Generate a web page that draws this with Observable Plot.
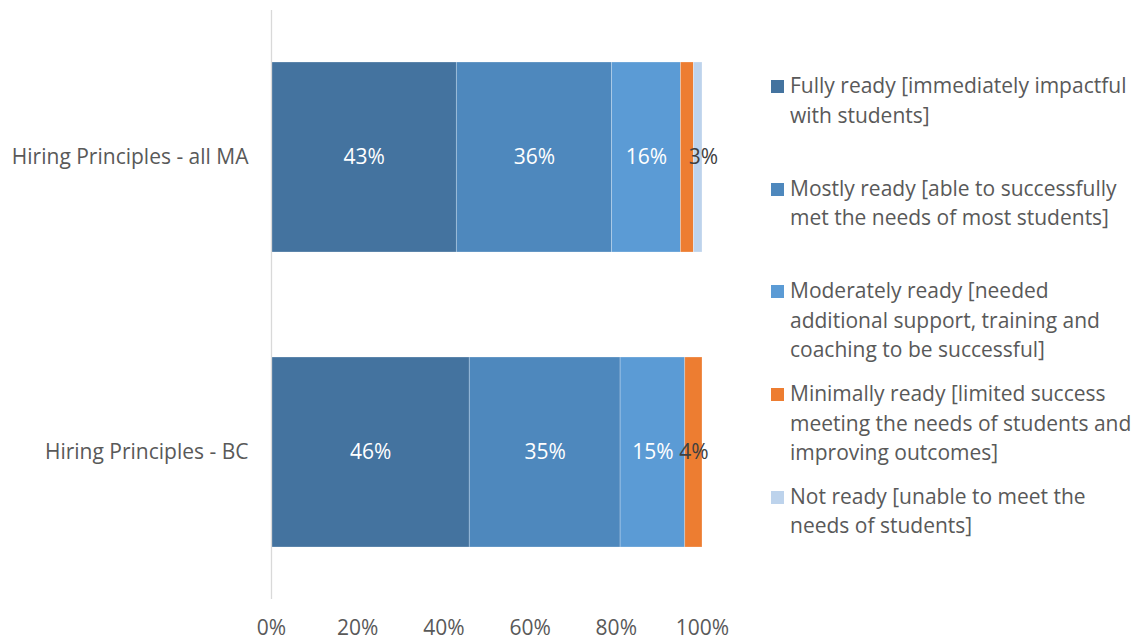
<!DOCTYPE html>
<html>
<head>
<meta charset="utf-8">
<script src="https://cdn.jsdelivr.net/npm/d3@7"></script>
<script src="https://cdn.jsdelivr.net/npm/@observablehq/plot@0.6"></script>
<style>
  html, body { margin: 0; padding: 0; background: #fff; }
  #wrap { position: relative; width: 1135px; height: 641px; font-family: "Open Sans", sans-serif; }
  #legend { position: absolute; left: 771px; top: 71px; }
  .item { position: relative; height: 102.7px; }
  .sw { position: absolute; left: 0; top: 9px; width: 13px; height: 13px; }
  .lab { position: absolute; left: 19px; top: 0; font-size: 21px; line-height: 29.5px; color: #595959; white-space: pre; }
</style>
</head>
<body>
<div id="wrap"><div id="legend"></div></div>
<script>
const categories = ["Hiring Principles - all MA", "Hiring Principles - BC"];
const series = [
  "Fully ready [immediately impactful with students]",
  "Mostly ready [able to successfully met the needs of most students]",
  "Moderately ready [needed additional support, training and coaching to be successful]",
  "Minimally ready [limited success meeting the needs of students and improving outcomes]",
  "Not ready [unable to meet the needs of students]"
];
const legendLines = [
  ["Fully ready [immediately impactful", "with students]"],
  ["Mostly ready [able to successfully", "met the needs of most students]"],
  ["Moderately ready [needed", "additional support, training and", "coaching to be successful]"],
  ["Minimally ready [limited success", "meeting the needs of students and", "improving outcomes]"],
  ["Not ready [unable to meet the", "needs of students]"]
];
const allMA = [43, 36, 16, 3, 2];
const bc = [46, 35, 15, 4, 0];
const xTicks = [0, 20, 40, 60, 80, 100];
const colors = ["#44739f", "#4e88bd", "#5b9bd5", "#ed7d31", "#bdd3ec"];

const valuesByCategory = [allMA, bc];
const data = categories.flatMap((c, ci) =>
  series.map((s, si) => ({category: c, series: s, si, value: valuesByCategory[ci][si]}))
);

const pct = d => d.value + "%";
const stackOpts = extra => Plot.stackX({x: "value", y: "category", z: "series", ...extra});
const FS = 21;

const plot = Plot.plot({
  width: 1135,
  height: 641,
  marginLeft: 271,
  marginRight: 433,
  marginTop: 10,
  marginBottom: 42,
  style: {fontFamily: "'Open Sans', sans-serif", fontSize: FS + "px", color: "#595959", background: "transparent"},
  x: {domain: [0, 100], axis: null},
  y: {domain: categories, paddingInner: 0.356, paddingOuter: 0.175, axis: null},
  color: {domain: series, range: colors},
  marks: [
    Plot.barX(data, stackOpts({fill: "series", stroke: "#ffffff", strokeOpacity: 0.35, strokeWidth: 0.75})),
    Plot.ruleX([0], {stroke: "#d9d9d9", strokeWidth: 1.3}),
    Plot.axisX({ticks: xTicks, tickFormat: d => d + "%", tickSize: 0, tickPadding: 21, fontSize: FS, fill: "#595959", label: null}),
    Plot.axisY({tickSize: 0, tickPadding: 23, fontSize: FS, fill: "#595959", label: null}),
    Plot.text(data, stackOpts({text: d => (d.si < 3 && d.value > 0) ? pct(d) : null, fill: "white", fontSize: FS})),
    Plot.text(data, stackOpts({text: d => (d.si === 3 && d.category === categories[1]) ? pct(d) : null, fill: "#404040", fontSize: FS})),
    Plot.text(data, stackOpts({text: d => (d.si === 3 && d.category === categories[0]) ? pct(d) : null, fill: "#404040", fontSize: FS, dx: 16}))
  ]
});
document.getElementById("wrap").prepend(plot);

const legend = document.getElementById("legend");
series.forEach((s, i) => {
  const item = document.createElement("div");
  item.className = "item";
  const sw = document.createElement("div");
  sw.className = "sw";
  sw.style.background = colors[i];
  const lab = document.createElement("div");
  lab.className = "lab";
  lab.textContent = legendLines[i].join("\n");
  lab.title = s;
  item.append(sw, lab);
  legend.append(item);
});
</script>
</body>
</html>
